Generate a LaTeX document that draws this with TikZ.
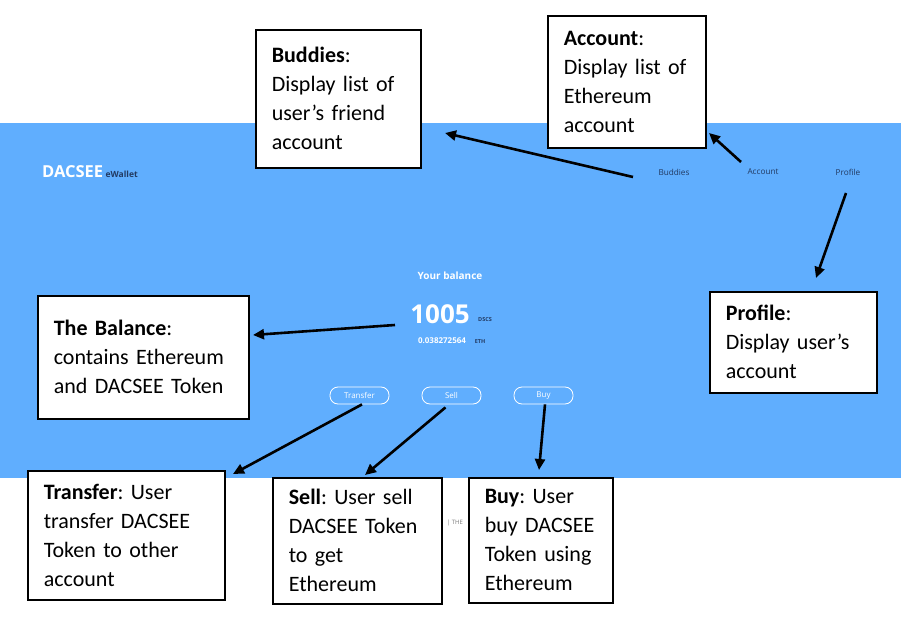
\documentclass[tikz,border=0pt]{standalone}
\usepackage{fontspec}
\setmainfont{Carlito}
\newfontfamily\uifont{Open Sans}
\usetikzlibrary{positioning}
\usetikzlibrary{arrows.meta}
\definecolor{appblue}{RGB}{96,174,254}
\definecolor{navtext}{RGB}{34,58,98}
\definecolor{faint}{RGB}{120,120,120}
\frenchspacing

\tikzset{
  notebox/.style={draw=black, line width=1.6pt, fill=white, anchor=north west,
                  align=left, inner xsep=16pt, inner ysep=0pt,
                  font=\fontsize{22}{29}\selectfont},
  pointer/.style={-{Triangle[length=11pt,width=10pt]}, line width=2.6pt},
  navlink/.style={font=\uifont\fontsize{8.2}{8}\selectfont, text=navtext},
  pillbtn/.style={draw=white, rounded corners=8pt, line width=0.8pt,
                  minimum width=59pt, minimum height=17pt, inner sep=0pt,
                  text=white, font=\uifont\fontsize{8}{8}\selectfont}
}

\begin{document}
\begin{tikzpicture}[x=1pt,y=-1pt]
	\useasboundingbox (0,0) rectangle (901,636);

	%App screen
	\fill[appblue] (0,123) rectangle (901,478);

	\node[anchor=base west, inner sep=0pt, text=white,
	      font=\uifont\bfseries\fontsize{16.5}{16}\selectfont] (Logo) at (42,178) {DACSEE};
	\node[anchor=base west, inner sep=0pt, text=navtext,
	      font=\uifont\bfseries\fontsize{8.5}{8}\selectfont] (LogoSub) at ([xshift=2pt]Logo.base east) {eWallet};

	\node[navlink] (NavBuddies) at (674,172) {Buddies};
	\node[navlink] (NavAccount) at (763,172) {Account};
	\node[navlink] (NavProfile) at (848,172) {Profile};

	\node[text=white, font=\uifont\bfseries\fontsize{10}{10}\selectfont] (YourBal) at (450,276) {Your balance};
	\node[text=white, font=\uifont\bfseries\fontsize{26}{26}\selectfont, inner sep=0pt] (Amount) at (440,314) {1005};
	\node[text=navtext, font=\uifont\bfseries\fontsize{5.5}{5}\selectfont, inner sep=0pt] (Dscs) at (485,320) {DSCS};
	\node[text=white, font=\uifont\bfseries\fontsize{8}{8}\selectfont, inner sep=0pt] (EthAmount) at (442,341) {0.038272564};
	\node[text=navtext, font=\uifont\bfseries\fontsize{5.5}{6}\selectfont, inner sep=0pt] (EthUnit) at (480,342) {ETH};

	\node[pillbtn] (BtnTransfer) at (359.5,395.5) {Transfer};
	\node[pillbtn] (BtnSell) at (451.5,395.5) {Sell};
	\node[pillbtn] (BtnBuy) at (543.5,395.5) {Buy};

	\node[text=faint, font=\uifont\fontsize{6}{6}\selectfont, inner sep=0pt] (Footer) at (455,523) {| THE};

	%Notes
	\node[notebox, minimum width=165pt, minimum height=138pt, text width=133pt] (Buddies) at (255,29)
	     {\textbf{Buddies}:\\Display list of\\user’s friend\\account};
	\node[notebox, minimum width=158pt, minimum height=132pt, text width=126pt] (Account) at (547,15)
	     {\textbf{Account}:\\Display list of\\Ethereum\\account};
	\node[notebox, minimum width=167pt, minimum height=101pt, text width=135pt] (Profile) at (709,291)
	     {\textbf{Profile}:\\Display user’s\\account};
	\node[notebox, minimum width=211pt, minimum height=123pt, text width=179pt] (Balance) at (37,295)
	     {\textbf{The Balance}:\\contains Ethereum\\and DACSEE Token};
	\node[notebox, minimum width=197pt, minimum height=129pt, text width=165pt] (Transfer) at (27,470)
	     {\textbf{Transfer}: User\\transfer DACSEE\\Token to other\\account};
	\node[notebox, minimum width=169pt, minimum height=126pt, text width=137pt] (Sell) at (272,477)
	     {\textbf{Sell}: User sell\\DACSEE Token\\to get\\Ethereum};
	\node[notebox, minimum width=144pt, minimum height=125pt, text width=112pt] (Buy) at (468,477)
	     {\textbf{Buy}: User\\buy DACSEE\\Token using\\Ethereum};

	%Free ends
	\coordinate (BudFrom) at (633,177);
	\coordinate (BudTo) at (445,133);
	\coordinate (AccFrom) at (741,162);
	\coordinate (AccTo) at (709,133);
	\coordinate (ProFrom) at (846,193);
	\coordinate (ProTo) at (816,278);
	\coordinate (BalFrom) at (395,325);
	\coordinate (BalTo) at (253,335);
	\coordinate (TraTo) at (233,474);
	\coordinate (SelTo) at (365,475);
	\coordinate (BuyTo) at (539,470);

	%Pointers
	\draw[pointer] (BudFrom) -- (BudTo);
	\draw[pointer] (AccFrom) -- (AccTo);
	\draw[pointer] (ProFrom) -- (ProTo);
	\draw[pointer] (BalFrom) -- (BalTo);
	\draw[pointer] ([xshift=2.5pt]BtnTransfer.south) -- (TraTo);
	\draw[pointer] ([xshift=-6pt,yshift=-3pt]BtnSell.south) -- (SelTo);
	\draw[pointer] ([xshift=1.5pt]BtnBuy.south) -- (BuyTo);
\end{tikzpicture}
\end{document}
